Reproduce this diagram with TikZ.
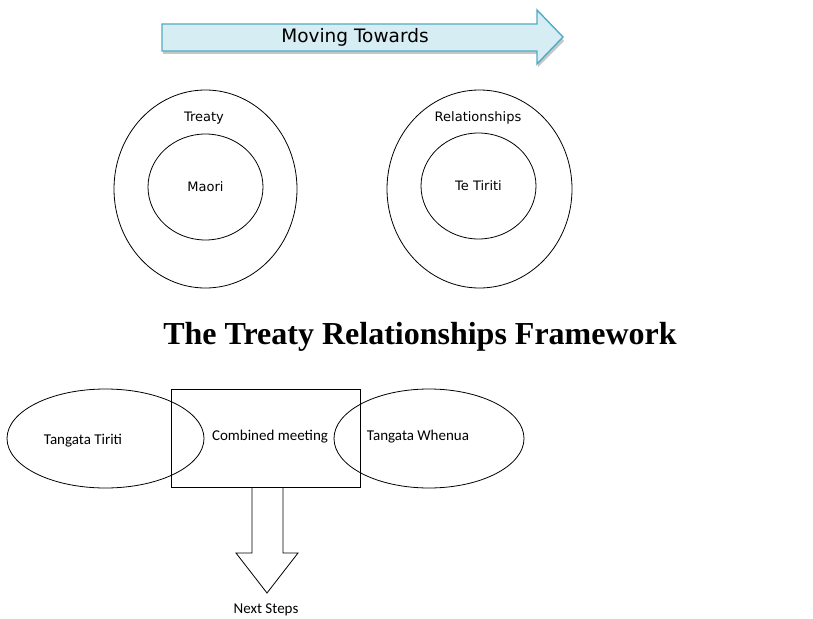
\documentclass[tikz,border=0pt]{standalone}
\usepackage{fontspec}
\setmainfont{Liberation Serif}
\newfontfamily\dejavu{DejaVu Sans}
\newfontfamily\carlito{Carlito}
\usetikzlibrary{shapes.geometric}

\definecolor{arrowfill}{RGB}{214,237,243}
\definecolor{arrowline}{RGB}{80,172,196}

\begin{document}
\begin{tikzpicture}[x=1pt,y=-1pt,line width=0.8pt,
                    ring/.style={ellipse,draw,inner sep=0pt},
                    small text/.style={font=\dejavu\fontsize{13}{15}\selectfont},
                    low text/.style={font=\carlito\fontsize{15}{18}\selectfont}]
	\useasboundingbox (0,0) rectangle (813,618);

	% top arrow
	\fill[black!22] (163,27) -- (538,27) -- (538,14) -- (564,41) -- (538,67) -- (538,54) -- (163,54) -- cycle;
	\draw[arrowline,fill=arrowfill,line width=1.4pt] (162,24) -- (537,24) -- (537,10) -- (563,37) -- (537,64) -- (537,51) -- (162,51) -- cycle;
	\node[font=\dejavu\fontsize{18.5}{21}\selectfont] (moving) at (355,37) {Moving Towards};

	% circles
	\node[ring,minimum width=183pt,minimum height=198pt] (treaty) at (205.5,189) {};
	\node[ring,minimum width=115pt,minimum height=106pt,small text] (maori) at (205.5,187) {Maori};
	\node[small text] (treatylbl) at (204,118) {Treaty};

	\node[ring,minimum width=185pt,minimum height=198pt] (rel) at (479.5,189) {};
	\node[ring,minimum width=115pt,minimum height=106pt,small text] (tiriti) at (478.5,186) {Te Tiriti};
	\node[small text] (rellbl) at (478,118) {Relationships};

	% title
	\node[font=\bfseries\fontsize{32}{36}\selectfont] (title) at (420,337) {The Treaty Relationships Framework};

	% bottom
	\node[ring,minimum width=197pt,minimum height=99pt] (tt) at (105.5,438.5) {};
	\node[ring,minimum width=190pt,minimum height=99pt] (tw) at (429,438.5) {};
	\node[draw,minimum width=189pt,minimum height=98pt,inner sep=0pt] (meet) at (265.5,438) {};
	\node[low text] at (83,441) {Tangata Tiriti};
	\node[low text] at (270,437) {Combined meeting};
	\node[low text] at (418,437) {Tangata Whenua};

	\coordinate (tip) at (267,593);
	\draw (252,0 |- meet.south) -- (252,553) -- (236,553) -- (tip) -- (298,553) -- (283,553) -- (283,0 |- meet.south);
	\node[low text] (next) at (266,610) {Next Steps};
\end{tikzpicture}
\end{document}
